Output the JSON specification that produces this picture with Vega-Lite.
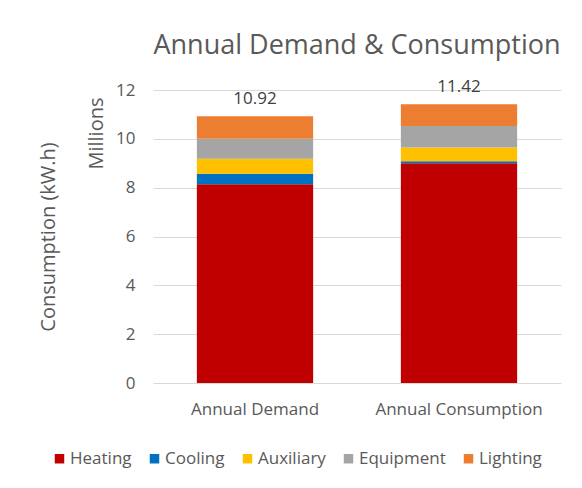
{
  "$schema": "https://vega.github.io/schema/vega-lite/v6.json",
  "width": 408,
  "height": 293,
  "autosize": {"type": "none"},
  "padding": {"left": 153, "top": 90, "right": 21, "bottom": 105},
  "background": "white",
  "config": {
    "font": "Open Sans",
    "view": {"stroke": null},
    "axis": {"labelColor": "#595959", "titleColor": "#595959", "labelFont": "Open Sans", "titleFont": "Open Sans", "titleFontWeight": "normal"}
  },
  "title": {"text": "Annual Demand & Consumption", "fontSize": 27, "font": "Open Sans", "fontWeight": "normal", "color": "#595959", "anchor": "middle", "offset": 18},
  "datasets": {
    "parts": [
      {"case": "Annual Demand", "use": "Heating", "k": 1, "v": 8.14},
      {"case": "Annual Demand", "use": "Cooling", "k": 2, "v": 0.43},
      {"case": "Annual Demand", "use": "Auxiliary", "k": 3, "v": 0.61},
      {"case": "Annual Demand", "use": "Equipment", "k": 4, "v": 0.82},
      {"case": "Annual Demand", "use": "Lighting", "k": 5, "v": 0.92},
      {"case": "Annual Consumption", "use": "Heating", "k": 1, "v": 9.0},
      {"case": "Annual Consumption", "use": "Cooling", "k": 2, "v": 0.08},
      {"case": "Annual Consumption", "use": "Auxiliary", "k": 3, "v": 0.57},
      {"case": "Annual Consumption", "use": "Equipment", "k": 4, "v": 0.88},
      {"case": "Annual Consumption", "use": "Lighting", "k": 5, "v": 0.89}
    ],
    "totals": [
      {"case": "Annual Demand", "total": 10.92, "label": "10.92"},
      {"case": "Annual Consumption", "total": 11.42, "label": "11.42"}
    ]
  },
  "resolve": {"axis": {"y": "independent"}},
  "layer": [
    {
      "data": {"name": "parts"},
      "mark": {"type": "bar"},
      "encoding": {
        "x": {"field": "case", "type": "nominal", "sort": ["Annual Demand", "Annual Consumption"],
          "scale": {"paddingInner": 0.43, "paddingOuter": 0.215},
          "axis": {"title": null, "labelAngle": 0, "labelFontSize": 17, "domain": false, "ticks": false, "labelPadding": 18}},
        "y": {"field": "v", "type": "quantitative", "stack": "zero",
          "scale": {"domain": [0, 12], "nice": false},
          "axis": {"orient": "left", "values": [0, 2, 4, 6, 8, 10, 12], "domain": false, "ticks": false, "gridColor": "#d9d9d9", "labelFontSize": 17, "labelPadding": 18, "title": "Millions", "titleFontSize": 20, "titleAnchor": "end", "titleY": 7, "titlePadding": 9}},
        "color": {"field": "use", "type": "nominal",
          "scale": {"domain": ["Heating", "Cooling", "Auxiliary", "Equipment", "Lighting"], "range": ["#C00000", "#0070C0", "#FFC000", "#A5A5A5", "#ED7D31"]},
          "legend": {"title": null, "orient": "none", "legendX": -102, "legendY": 360, "direction": "horizontal", "symbolType": "square", "symbolSize": 90, "symbolStrokeWidth": 0, "labelFontSize": 17, "labelColor": "#595959", "labelFont": "Open Sans", "labelOffset": 2, "columnPadding": 14}},
        "order": {"field": "k", "type": "quantitative"}
      }
    },
    {
      "data": {"name": "totals"},
      "mark": {"type": "text", "fontSize": 17, "color": "#404040", "dy": -8, "baseline": "bottom"},
      "encoding": {
        "x": {"field": "case", "type": "nominal", "sort": ["Annual Demand", "Annual Consumption"]},
        "y": {"field": "total", "type": "quantitative",
          "axis": {"orient": "left", "labels": false, "ticks": false, "domain": false, "grid": false, "title": "Consumption (kW.h)", "titleFontSize": 20, "titlePadding": 95}},
        "text": {"field": "label"}
      }
    }
  ]
}
